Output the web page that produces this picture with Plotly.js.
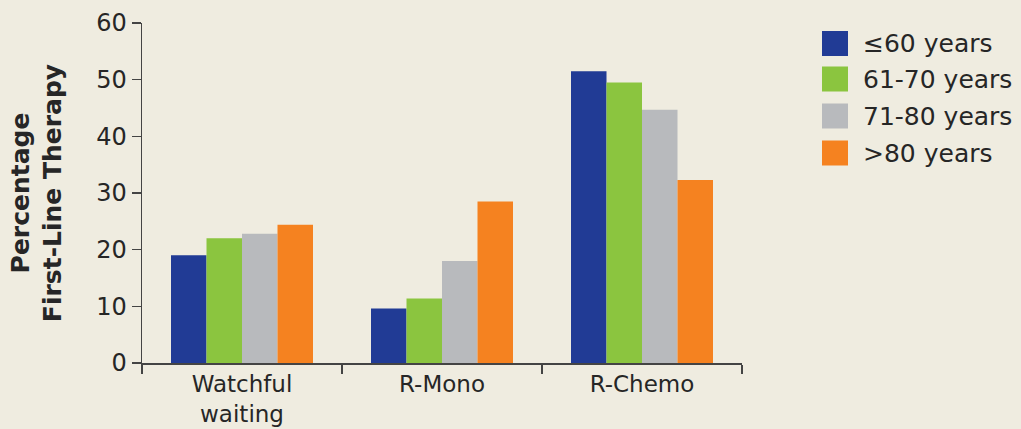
<!DOCTYPE html>
<html>
<head>
<meta charset="utf-8">
<script src="https://cdn.plot.ly/plotly-3.0.1.min.js"></script>
<style>
  html, body { margin: 0; padding: 0; background: #EFECE0; }
  #chart { width: 1021px; height: 429px; }
</style>
</head>
<body>
<div id="chart"></div>
<script>
// Data
const categories = ["Watchful<br>waiting", "R-Mono", "R-Chemo"];
const seriesNames = ["\u226460 years", "61-70 years", "71-80 years", ">80 years"];
const age60 = [19, 9.6, 51.5];
const age61to70 = [22, 11.4, 49.5];
const age71to80 = [22.8, 18, 44.7];
const age80plus = [24.4, 28.5, 32.3];
const yTicks = [0, 10, 20, 30, 40, 50, 60];

const seriesValues = [age60, age61to70, age71to80, age80plus];
const colors = ["#213B95", "#8BC53F", "#B8BABD", "#F58220"];

const font = "DejaVu Sans, Verdana, sans-serif";
const textColor = "#262626";

const traces = seriesValues.map((vals, i) => ({
  type: "bar",
  x: categories,
  y: vals,
  name: seriesNames[i],
  marker: { color: colors[i], line: { width: 0 } },
  showlegend: false,
  hoverinfo: "skip"
}));

// Custom legend (large square swatches) in paper coordinates
const shapes = [];
const annotations = [];
const legCenters = [43.5, 79, 116, 153];
const H = 429, mT = 23, mB = 66, plotH = H - mT - mB;
const W = 1021, mL = 142, mR = 279, plotW = W - mL - mR;
seriesNames.forEach((nm, i) => {
  const cy = legCenters[i];
  const yPaper = (H - mB - cy) / plotH;
  const half = 12.5 / plotH;
  const x0 = (822 - mL) / plotW, x1 = (848 - mL) / plotW;
  shapes.push({
    type: "rect", xref: "paper", yref: "paper",
    x0: x0, x1: x1, y0: yPaper - half, y1: yPaper + half,
    fillcolor: colors[i], line: { width: 0 }
  });
  annotations.push({
    xref: "paper", yref: "paper",
    x: (861 - mL) / plotW, y: yPaper,
    xanchor: "left", yanchor: "middle",
    text: nm, showarrow: false,
    font: { family: font, size: 25, color: textColor }
  });
});

const layout = {
  width: W, height: H,
  paper_bgcolor: "#EFECE0",
  plot_bgcolor: "#EFECE0",
  margin: { l: mL, r: mR, t: mT, b: mB, pad: 0 },
  barmode: "group",
  bargap: 0.29,
  bargroupgap: 0,
  showlegend: false,
  font: { family: font, size: 24, color: textColor },
  xaxis: {
    range: [-0.5, 2.5],
    showline: true, linecolor: "#444", linewidth: 1.5,
    ticks: "outside", tickson: "boundaries", ticklen: 9, tickcolor: "#444", tickwidth: 1.5,
    showgrid: false, zeroline: false,
    tickfont: { family: font, size: 23, color: textColor },
    automargin: false
  },
  yaxis: {
    range: [0, 60],
    tickvals: yTicks,
    ticktext: yTicks.map(String),
    showline: true, linecolor: "#444", linewidth: 1.5,
    ticks: "outside", ticklen: 9, tickcolor: "#444", tickwidth: 1.5,
    showgrid: false, zeroline: false,
    tickfont: { family: font, size: 24, color: textColor },
    title: {
      text: "<b>Percentage<br>First-Line Therapy</b>",
      font: { family: font, size: 25, color: textColor },
      standoff: 27
    },
    automargin: false
  },
  shapes: shapes,
  annotations: annotations
};

Plotly.newPlot("chart", traces, layout, { staticPlot: true, displayModeBar: false });
</script>
</body>
</html>
